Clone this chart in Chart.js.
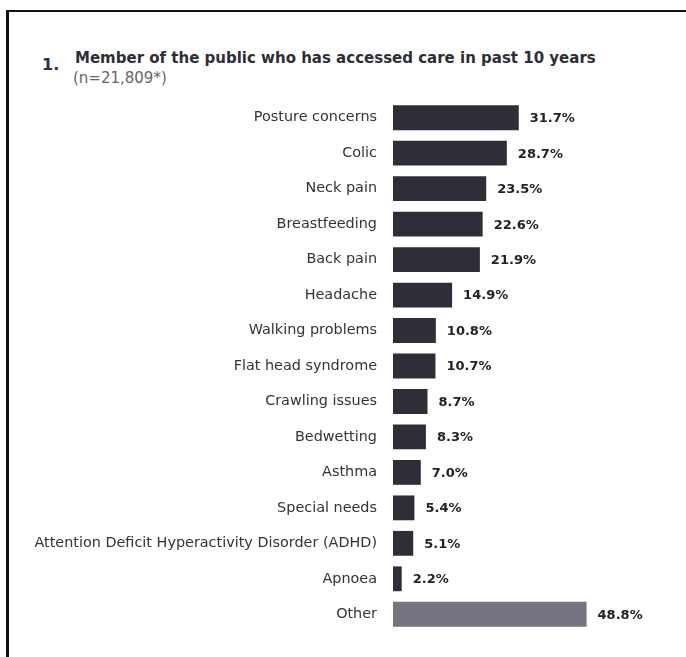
<!DOCTYPE html>
<html>
<head>
<meta charset="utf-8">
<script src="https://cdn.jsdelivr.net/npm/chart.js@4"></script>
<style>
    body { margin: 0; background: #fff; font-family: "DejaVu Sans", sans-serif; }
    #wrap { position: relative; width: 686px; height: 657px; overflow: hidden; }
    #frame { position: absolute; left: 6px; top: 10px; width: 700px; height: 700px; border-left: 3px solid #111; border-top: 2px solid #111; }
    #num { position: absolute; left: 42px; top: 57px; font-size: 16px; line-height: 16px; font-weight: bold; color: #2e2e38; }
    #title { position: absolute; left: 75px; top: 51px; font-size: 15px; line-height: 15px; font-weight: bold; color: #2e2e38; white-space: nowrap; }
    #subtitle { position: absolute; left: 73px; top: 71px; font-size: 15px; line-height: 15px; color: #666; }
    canvas { position: absolute; left: 0; top: 0; }
</style>
</head>
<body>
<div id="wrap">
    <div id="frame"></div>
    <div id="num">1.</div>
    <div id="title">Member of the public who has accessed care in past 10 years</div>
    <div id="subtitle">(n=21,809*)</div>
    <canvas id="chart" width="686" height="657"></canvas>
</div>
<script>
// categories and values (%)
const categories = [
    'Posture concerns', 'Colic', 'Neck pain', 'Breastfeeding', 'Back pain',
    'Headache', 'Walking problems', 'Flat head syndrome', 'Crawling issues',
    'Bedwetting', 'Asthma', 'Special needs',
    'Attention Deficit Hyperactivity Disorder (ADHD)', 'Apnoea', 'Other'
]
const values = [31.7, 28.7, 23.5, 22.6, 21.9, 14.9, 10.8, 10.7, 8.7, 8.3, 7.0, 5.4, 5.1, 2.2, 48.8]

const darkColor = '#2e2e38'
const otherColor = '#747480'
const fontFamily = '"DejaVu Sans", sans-serif'

// value labels at the end of each bar
const valueLabels = {
    id: 'valueLabels',
    afterDatasetsDraw(chart) {
        const ctx = chart.ctx
        const meta = chart.getDatasetMeta(0)
        ctx.save()
        ctx.font = 'bold 13px ' + fontFamily
        ctx.fillStyle = '#222'
        ctx.textAlign = 'left'
        ctx.textBaseline = 'middle'
        meta.data.forEach((bar, i) => {
            ctx.fillText(values[i].toFixed(1) + '%', bar.x + 11, bar.y + 1)
        })
        ctx.restore()
    }
}

new Chart(document.getElementById('chart').getContext('2d'), {
    type: 'bar',
    data: {
        labels: categories,
        datasets: [{
            data: values,
            backgroundColor: categories.map(c => c === 'Other' ? otherColor : darkColor),
            barPercentage: 0.7,
            categoryPercentage: 1
        }]
    },
    options: {
        indexAxis: 'y',
        responsive: false,
        animation: false,
        layout: { padding: { top: 100, bottom: 25, left: 0, right: 55 } },
        plugins: {
            legend: { display: false },
            tooltip: { enabled: false }
        },
        scales: {
            x: { display: false, min: 0, max: 60 },
            y: {
                grid: { display: false, drawTicks: false },
                border: { display: false },
                ticks: {
                    color: '#333',
                    padding: 16,
                    font: { family: fontFamily, size: 14.4 }
                },
                afterFit(scale) { scale.width = 393 }
            }
        }
    },
    plugins: [valueLabels]
})
</script>
</body>
</html>
